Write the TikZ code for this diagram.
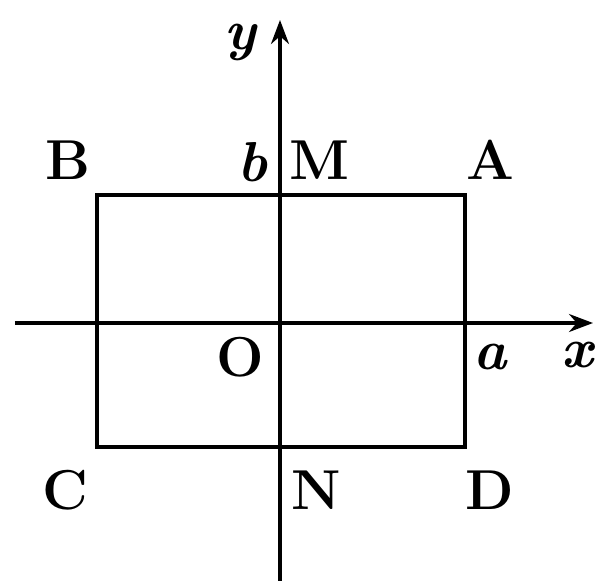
\documentclass[tikz,border=0pt]{standalone}
\usepackage{tikz}
\usetikzlibrary{arrows.meta}
\tikzset{
  axisline/.style={-{Stealth[length=2.4mm,width=1.8mm]}, line width=0.9pt},
  rectedge/.style={line width=1.2pt},
  lbl/.style={inner sep=0pt, font=\fontsize{16}{19}\selectfont\bfseries},
  mlbl/.style={lbl, font=\fontsize{16}{19}\selectfont\bfseries\itshape}
}
\begin{document}
\begin{tikzpicture}[x=0.01cm, y=-0.01cm]
\useasboundingbox (0,0) rectangle (596,581);
% corners and axis points
\coordinate (O) at (280,323);
\coordinate (A) at (465,195);
\coordinate (B) at (97,195);
\coordinate (C) at (97,447);
\coordinate (D) at (465,447);
\coordinate (xstart) at (15,323);
\coordinate (xend) at (593,323);
\coordinate (ystart) at (280,581);
\coordinate (yend) at (280,20);
% axes
\draw[axisline] (xstart) -- (xend);
\draw[axisline] (ystart) -- (yend);
% rectangle
\draw[rectedge] (A) -- (B) -- (C) -- (D) -- cycle;
% labels
\node[lbl] (labB) at (68,160) {B};
\node[mlbl] (labb) at (252,162) {b};
\node[lbl] (labM) at (320,160) {M};
\node[lbl] (labA) at (490,160) {A};
\node[lbl] (labO) at (240,357) {O};
\node[mlbl] (laba) at (490,357) {a};
\node[mlbl] (labx) at (577,355) {x};
\node[lbl] (labC) at (65,490) {C};
\node[lbl] (labN) at (316,490) {N};
\node[lbl] (labD) at (490,490) {D};
\node[mlbl] (laby) at (240,42) {y};
\end{tikzpicture}
\end{document}
